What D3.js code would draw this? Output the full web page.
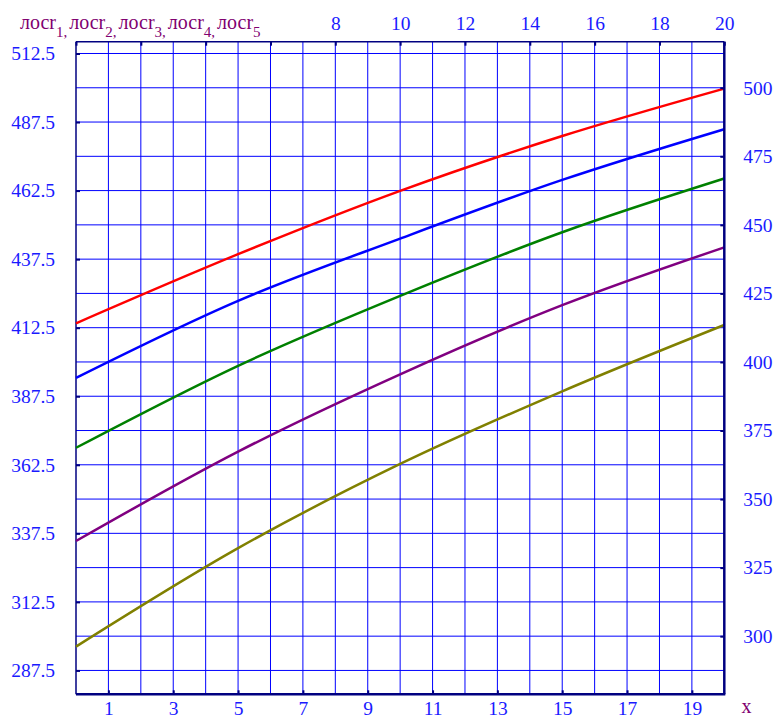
<!DOCTYPE html>
<html>
<head>
<meta charset="utf-8">
<script src="https://cdn.jsdelivr.net/npm/d3@7"></script>
<style>
  html, body { margin: 0; padding: 0; background: #fff; }
  svg { display: block; }
  text { font-family: "Liberation Serif", "Times New Roman", serif; }
</style>
</head>
<body>
<svg id="chart" width="778" height="718"></svg>
<script>
// sample points along x
const xValues = [0, 5, 10, 15, 20];

// the five curves
const loss1 = [414.1, 439.3, 462.4, 482.4, 499.7];
const loss2 = [394.2, 422.3, 445.0, 466.4, 484.9];
const loss3 = [368.7, 398.6, 424.1, 447.3, 466.9];
const loss4 = [334.7, 367.3, 395.5, 420.7, 441.8];
const loss5 = [296.2, 332.1, 362.8, 389.3, 413.5];

const seriesColors = ["#ff0000", "#0000ff", "#008000", "#800080", "#808000"];

// tick labels
const leftTicks = [287.5, 312.5, 337.5, 362.5, 387.5, 412.5, 437.5, 462.5, 487.5, 512.5];
const rightTicks = [300, 325, 350, 375, 400, 425, 450, 475, 500];
const bottomTicks = [1, 3, 5, 7, 9, 11, 13, 15, 17, 19];
const topTicks = [0, 2, 4, 6, 8, 10, 12, 14, 16, 18, 20];
const topLabels = [8, 10, 12, 14, 16, 18, 20];
const gridX = d3.range(1, 20);
const gridY = d3.range(287.5, 513, 12.5);

const svg = d3.select("#chart");
const plotL = 76, plotR = 724.3, plotT = 41.7, plotB = 694.3;

const x = d3.scaleLinear().domain([0, 20]).range([plotL, plotR]);
const y = d3.scaleLinear().domain([278.8, 516.8]).range([plotB, plotT]);

const gridColor = "#0000ff";
const axisColor = "#000080";
const labelColor = "#1a1aff";
const titleColor = "#800070";

// grid
const grid = svg.append("g");
grid.selectAll(".gx").data(gridX).join("line")
  .attr("x1", d => x(d)).attr("x2", d => x(d))
  .attr("y1", plotT).attr("y2", plotB)
  .attr("stroke", gridColor).attr("stroke-width", 1);
grid.selectAll(".gy").data(gridY).join("line")
  .attr("x1", plotL).attr("x2", plotR)
  .attr("y1", d => y(d)).attr("y2", d => y(d))
  .attr("stroke", gridColor).attr("stroke-width", 1);

// frame
svg.append("line").attr("x1", plotL).attr("x2", plotR).attr("y1", plotT).attr("y2", plotT)
  .attr("stroke", axisColor).attr("stroke-width", 1.5);
svg.append("line").attr("x1", plotL).attr("x2", plotL).attr("y1", plotT).attr("y2", plotB)
  .attr("stroke", axisColor).attr("stroke-width", 1.5);

// curves
const lineGen = d3.line()
  .x((d, i) => x(xValues[i]))
  .y(d => y(d))
  .curve(d3.curveMonotoneX);

[loss1, loss2, loss3, loss4, loss5].forEach((s, i) => {
  svg.append("path")
    .attr("d", lineGen(s))
    .attr("fill", "none")
    .attr("stroke", seriesColors[i])
    .attr("stroke-width", 2.5);
});

svg.append("line").attr("x1", plotL).attr("x2", plotR + 1).attr("y1", plotB).attr("y2", plotB)
  .attr("stroke", axisColor).attr("stroke-width", 2.5);
svg.append("line").attr("x1", plotR).attr("x2", plotR).attr("y1", plotT).attr("y2", plotB)
  .attr("stroke", axisColor).attr("stroke-width", 2.5);

// axes with inward ticks
function styleAxis(g) {
  g.select(".domain").remove();
  g.selectAll(".tick line").attr("stroke", axisColor).attr("stroke-width", 2);
  g.selectAll(".tick text")
    .attr("fill", labelColor)
    .style("font-family", "'Liberation Serif', serif")
    .style("font-size", "19.5px");
}

svg.append("g").attr("transform", `translate(${plotL},0)`)
  .call(d3.axisLeft(y).tickValues(leftTicks).tickSize(-4).tickPadding(21).tickFormat(d3.format(".1f")))
  .call(styleAxis);

svg.append("g").attr("transform", `translate(${plotR},0)`)
  .call(d3.axisRight(y).tickValues(rightTicks).tickSize(-4).tickPadding(19).tickFormat(d3.format("d")))
  .call(styleAxis);

svg.append("g").attr("transform", `translate(0,${plotB})`)
  .call(d3.axisBottom(x).tickValues(bottomTicks).tickSize(-4).tickPadding(7).tickFormat(d3.format("d")))
  .call(styleAxis);

svg.append("g").attr("transform", `translate(0,${plotT})`)
  .call(d3.axisTop(x).tickValues(topTicks).tickSize(-4).tickPadding(12)
    .tickFormat(d => topLabels.includes(d) ? String(d) : ""))
  .call(styleAxis);

// variable names along the top
const title = svg.append("text")
  .attr("x", 20).attr("y", 28.5)
  .attr("fill", titleColor)
  .style("font-size", "20px");
for (let k = 1; k <= 5; k++) {
  title.append("tspan").attr("dy", k === 1 ? 0 : -8).attr("dx", k === 1 ? 0 : 2).text("лосr");
  title.append("tspan").attr("dy", 8).style("font-size", "15px").text(k < 5 ? k + "," : String(k));
}

// x-axis name
svg.append("text")
  .attr("x", 746.5).attr("y", 713)
  .attr("text-anchor", "middle")
  .attr("fill", titleColor)
  .style("font-size", "20px")
  .text("x");
</script>
</body>
</html>
